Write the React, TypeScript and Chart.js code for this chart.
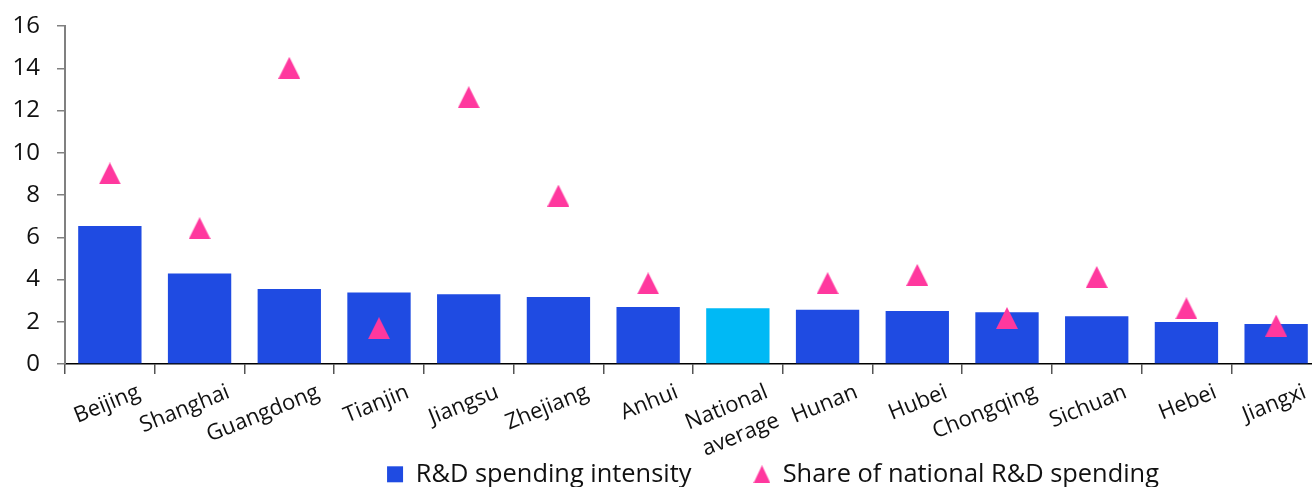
import React, { useEffect, useRef } from 'react';
import { Chart, registerables } from 'chart.js';

Chart.register(...registerables);

// Provinces ranked by R&D spending intensity, with the national average in its place
const categories = [
  'Beijing',
  'Shanghai',
  'Guangdong',
  'Tianjin',
  'Jiangsu',
  'Zhejiang',
  'Anhui',
  'National average',
  'Hunan',
  'Hubei',
  'Chongqing',
  'Sichuan',
  'Hebei',
  'Jiangxi',
];

// R&D spending as % of GDP
const intensity = [6.53, 4.29, 3.55, 3.39, 3.31, 3.17, 2.7, 2.64, 2.57, 2.51, 2.45, 2.27, 1.99, 1.9];

// Share of national R&D spending, % (no value for the national average)
const share = [9.02, 6.43, 14.02, 1.7, 12.63, 7.97, 3.82, null, 3.83, 4.22, 2.18, 4.12, 2.64, 1.82];

const yMin = 0;
const yMax = 16;
const yStep = 2;

const seriesNames = ['R&D spending intensity', 'Share of national R&D spending'];
const highlighted = 'National average';

const BLUE = '#1F4BE2';
const CYAN = '#00B9F5';
const PINK = '#FF389E';
const FONT = '"Open Sans", "DejaVu Sans", sans-serif';

// Distance from the x axis line to the top of the legend block; the legend
// shares the band under the axis with the slanted category labels.
const LEGEND_TOP_BELOW_AXIS = 35;

function triangleImage(w: number, h: number, color: string): HTMLCanvasElement {
  const c = document.createElement('canvas');
  c.width = w;
  c.height = h;
  const g = c.getContext('2d') as CanvasRenderingContext2D;
  g.fillStyle = color;
  g.beginPath();
  g.moveTo(w / 2, 0);
  g.lineTo(w, h);
  g.lineTo(0, h);
  g.closePath();
  g.fill();
  return c;
}

const legendUnderAxis = {
  id: 'legendUnderAxis',
  afterLayout(chart: any) {
    const lg = chart.legend;
    const x = chart.scales.x;
    if (!lg || !x) return;
    const h = lg.bottom - lg.top;
    lg.top = x.top + LEGEND_TOP_BELOW_AXIS;
    lg.bottom = lg.top + h;
  },
};

export default function App() {
  const canvasRef = useRef<HTMLCanvasElement>(null);

  useEffect(() => {
    const canvas = canvasRef.current;
    if (!canvas) return;

    const marker = triangleImage(22, 22, PINK);
    const legendMarker = triangleImage(17, 18, PINK);

    const chart = new Chart(canvas, {
      type: 'bar',
      data: {
        labels: categories,
        datasets: [
          {
            type: 'bar',
            label: seriesNames[0],
            data: intensity,
            backgroundColor: categories.map((c) => (c === highlighted ? CYAN : BLUE)),
            borderWidth: 0,
            barPercentage: 0.706,
            categoryPercentage: 1,
            pointStyle: 'rect',
            order: 1,
          } as any,
          {
            type: 'line',
            label: seriesNames[1],
            data: share,
            showLine: false,
            pointStyle: marker,
            pointRadius: 11,
            pointHoverRadius: 11,
            backgroundColor: PINK,
            borderColor: PINK,
            order: 0,
          } as any,
        ],
      },
      plugins: [legendUnderAxis],
      options: {
        responsive: false,
        animation: false,
        events: [],
        layout: { padding: { top: 26, left: 0, right: 0, bottom: 0 } },
        plugins: {
          tooltip: { enabled: false },
          legend: {
            position: 'bottom',
            align: 'center',
            labels: {
              usePointStyle: true,
              boxWidth: 16,
              boxHeight: 16,
              padding: 62.5,
              color: '#111111',
              font: { family: FONT, size: 25.4 },
              sort: (a: any, b: any) => a.datasetIndex - b.datasetIndex,
              generateLabels: (c: any) => {
                const items = (Chart.defaults.plugins.legend.labels as any).generateLabels(c);
                items.forEach((it: any) => {
                  if (it.datasetIndex === 1) it.pointStyle = legendMarker;
                });
                return items;
              },
            },
          },
        },
        scales: {
          x: {
            offset: true,
            grid: {
              display: true,
              offset: true,
              drawOnChartArea: false,
              drawTicks: true,
              tickLength: 10,
              color: '#555555',
              lineWidth: 1.5,
            },
            border: { display: true, color: '#000000', width: 1.5 },
            ticks: {
              autoSkip: false,
              minRotation: 22,
              maxRotation: 22,
              labelOffset: 29,
              padding: 3,
              color: '#111111',
              font: { family: FONT, size: 22, lineHeight: 1.4 },
              callback: (_v: any, i: number) =>
                categories[i] === highlighted ? categories[i].split(' ') : categories[i],
            },
            afterFit: (s: any) => {
              s.height = 106;
            },
          },
          y: {
            min: yMin,
            max: yMax,
            ticks: {
              stepSize: yStep,
              padding: 17,
              color: '#111111',
              font: { family: FONT, size: 24 },
            },
            grid: {
              drawOnChartArea: false,
              drawTicks: true,
              tickLength: 8,
              color: '#808080',
              lineWidth: 1.5,
            },
            border: { display: true, color: '#808080', width: 2 },
            afterFit: (s: any) => {
              s.width = 65;
              // the top label may sit in the layout padding above the plot
              s.paddingTop = 0;
            },
          },
          spacer: {
            type: 'linear',
            position: 'right',
            display: true,
            grid: { display: false },
            border: { display: false },
            ticks: { display: false },
            afterFit: (s: any) => {
              s.width = 225;
            },
          },
        },
      } as any,
    });

    return () => chart.destroy();
  }, []);

  return (
    <div
      style={{
        position: 'fixed',
        left: 0,
        top: 0,
        width: 1312,
        height: 487,
        overflow: 'hidden',
        background: '#ffffff',
      }}
    >
      <canvas ref={canvasRef} width={1546} height={568} style={{ display: 'block' }} />
    </div>
  );
}
